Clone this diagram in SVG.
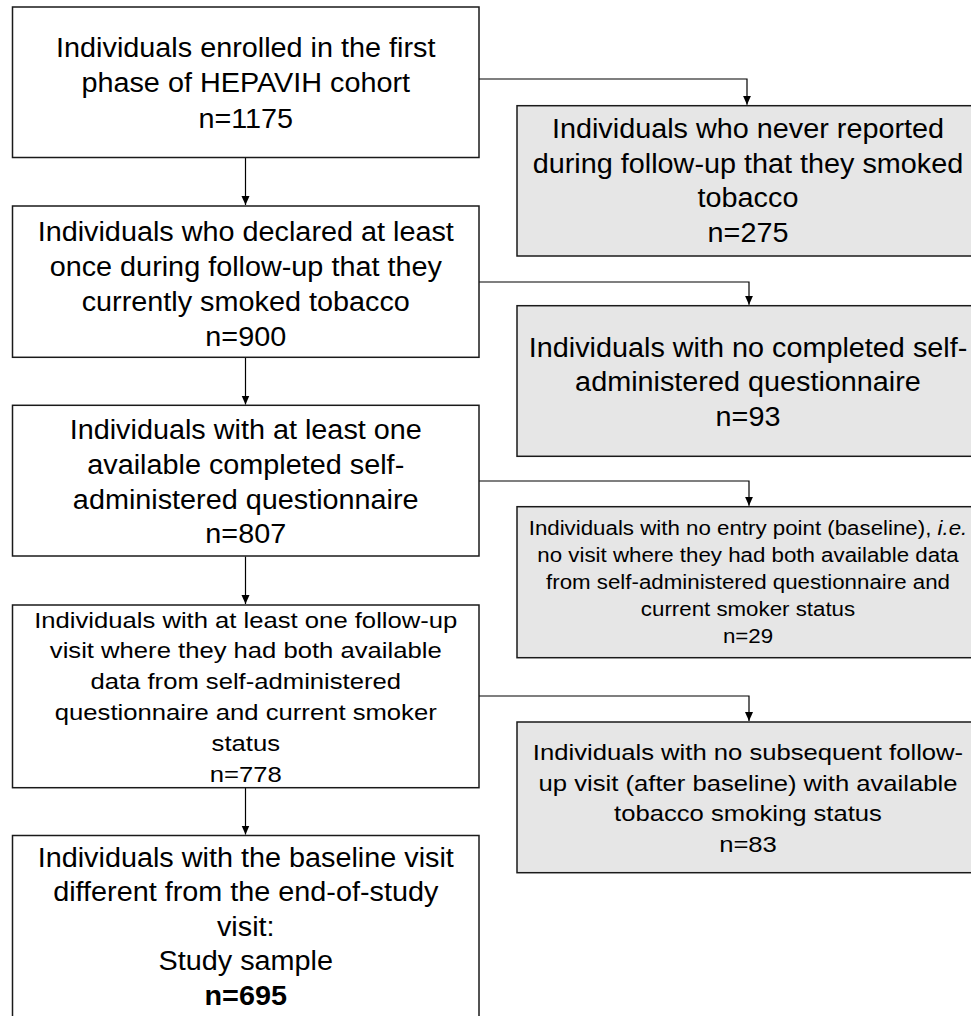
<svg xmlns="http://www.w3.org/2000/svg" width="971" height="1016" viewBox="0 0 971 1016">
<style>
.box{fill:#ffffff;stroke:#1a1a1a;stroke-width:1.5}
.gbox{fill:#e6e6e6;stroke:#1a1a1a;stroke-width:1.5}
.t{font-family:"Liberation Sans",Arial,sans-serif;fill:#000;text-anchor:middle}
.l{font-size:27px}
.m{font-size:22.5px}
.s{font-size:20px}
.conn{fill:none;stroke:#000;stroke-width:1.2}
</style>
<defs>
<marker id="arr" markerUnits="userSpaceOnUse" markerWidth="10" markerHeight="9" viewBox="0 0 10 9" refX="9" refY="4" orient="auto">
<path d="M0,0 L9,4 L0,8 z" fill="#000"/>
</marker>
</defs>
<rect width="971" height="1016" fill="#ffffff"/>
<g id="connectors">
<path class="conn" d="M245.5,158 V205" marker-end="url(#arr)"/>
<path class="conn" d="M245.5,358 V404.5" marker-end="url(#arr)"/>
<path class="conn" d="M245.5,556.5 V604" marker-end="url(#arr)"/>
<path class="conn" d="M245.5,788 V834.5" marker-end="url(#arr)"/>
<path class="conn" d="M479,79 H747 V104.8" marker-end="url(#arr)"/>
<path class="conn" d="M479,282 H749 V304.8" marker-end="url(#arr)"/>
<path class="conn" d="M479,481 H749 V505.8" marker-end="url(#arr)"/>
<path class="conn" d="M479,696 H749 V721" marker-end="url(#arr)"/>
</g>
<g id="n1">
<rect class="box" x="12.5" y="7" width="466.5" height="150.5"/>
<text class="t l" transform="translate(245.75,0) scale(1.067,1)"><tspan x="0" y="56.7">Individuals enrolled in the first</tspan><tspan x="0" y="92.2">phase of HEPAVIH cohort</tspan><tspan x="0" y="127.7">n=1175</tspan></text>
</g>
<g id="n2">
<rect class="box" x="12.5" y="206" width="466.5" height="151.3"/>
<text class="t l" transform="translate(245.75,0) scale(1.067,1)"><tspan x="0" y="240.7">Individuals who declared at least</tspan><tspan x="0" y="275.8">once during follow-up that they</tspan><tspan x="0" y="310.9">currently smoked tobacco</tspan><tspan x="0" y="346">n=900</tspan></text>
</g>
<g id="n3">
<rect class="box" x="12.5" y="405.3" width="466.5" height="150.7"/>
<text class="t l" transform="translate(245.75,0) scale(1.067,1)"><tspan x="0" y="439">Individuals with at least one</tspan><tspan x="0" y="473.8">available completed self-</tspan><tspan x="0" y="508.6">administered questionnaire</tspan><tspan x="0" y="543.4">n=807</tspan></text>
</g>
<g id="n4">
<rect class="box" x="12.5" y="605" width="466.5" height="182.7"/>
<text class="t m" transform="translate(245.75,0) scale(1.14,1)"><tspan x="0" y="627.7">Individuals with at least one follow-up</tspan><tspan x="0" y="658.5">visit where they had both available</tspan><tspan x="0" y="689.3">data from self-administered</tspan><tspan x="0" y="720.1">questionnaire and current smoker</tspan><tspan x="0" y="750.9">status</tspan><tspan x="0" y="781.7">n=778</tspan></text>
</g>
<g id="n5">
<rect class="box" x="12.5" y="835.5" width="466.5" height="190"/>
<text class="t l" transform="translate(245.75,0) scale(1.067,1)"><tspan x="0" y="866.7">Individuals with the baseline visit</tspan><tspan x="0" y="901.3">different from the end-of-study</tspan><tspan x="0" y="935.9">visit:</tspan><tspan x="0" y="970.5">Study sample</tspan><tspan x="0" y="1005.1" font-weight="bold">n=695</tspan></text>
</g>
<g id="e1">
<rect class="gbox" x="517" y="105.7" width="462" height="150.3"/>
<text class="t l" transform="translate(748,0) scale(1.067,1)"><tspan x="0" y="138.3">Individuals who never reported</tspan><tspan x="0" y="173">during follow-up that they smoked</tspan><tspan x="0" y="207.5">tobacco</tspan><tspan x="0" y="242">n=275</tspan></text>
</g>
<g id="e2">
<rect class="gbox" x="517" y="305.7" width="462" height="150.6"/>
<text class="t l" transform="translate(748,0) scale(1.067,1)"><tspan x="0" y="357">Individuals with no completed self-</tspan><tspan x="0" y="391.5">administered questionnaire</tspan><tspan x="0" y="426">n=93</tspan></text>
</g>
<g id="e3">
<rect class="gbox" x="517" y="506.7" width="462" height="151"/>
<text class="t s" transform="translate(748,0) scale(1.115,1)"><tspan x="0" y="535">Individuals with no entry point (baseline), <tspan font-style="italic">i.e.</tspan></tspan><tspan x="0" y="562">no visit where they had both available data</tspan><tspan x="0" y="589">from self-administered questionnaire and</tspan><tspan x="0" y="616.2">current smoker status</tspan><tspan x="0" y="643.3">n=29</tspan></text>
</g>
<g id="e4">
<rect class="gbox" x="517" y="722" width="462" height="150.7"/>
<text class="t m" transform="translate(748,0) scale(1.14,1)"><tspan x="0" y="760">Individuals with no subsequent follow-</tspan><tspan x="0" y="790.6">up visit (after baseline) with available</tspan><tspan x="0" y="821.2">tobacco smoking status</tspan><tspan x="0" y="851.7">n=83</tspan></text>
</g>
</svg>
